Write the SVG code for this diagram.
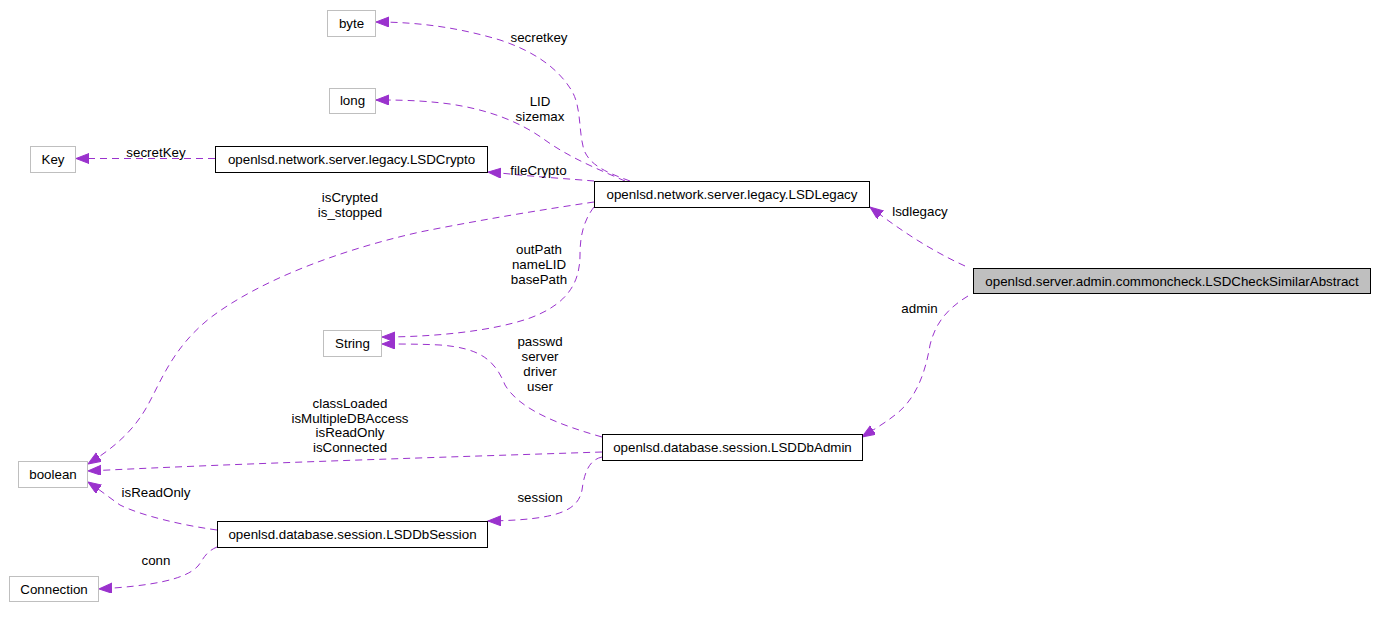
<svg xmlns="http://www.w3.org/2000/svg" width="1377" height="619" viewBox="0 0 1377 619">
<style>
  text { font-family: "Liberation Sans", Arial, Helvetica, sans-serif; font-size: 13.33px; fill: #000; text-anchor: middle; }
  .ext rect { fill: #fff; stroke: #bfbfbf; stroke-width: 1; }
  .cls rect { fill: #fff; stroke: #000; stroke-width: 1; }
  .main rect { fill: #bfbfbf; stroke: #000; stroke-width: 1; }
  .edge { fill: none; stroke: #9a32cd; stroke-width: 1; stroke-dasharray: 7,5; marker-end: url(#arrow); }
</style>
<defs>
  <marker id="arrow" markerUnits="userSpaceOnUse" markerWidth="15" markerHeight="12" refX="13" refY="5" orient="auto">
    <path d="M0,0 L13,5 L0,10 z" fill="#9a32cd" stroke="#9a32cd" stroke-width="1"/>
  </marker>
</defs>
<rect width="1377" height="619" fill="#fff"/>

<g id="connectors">
  <path class="edge" d="M 630,181 C 605,172 590,165 584,150 C 578,130 582,105 570,88 C 555,65 530,50 500,40 C 460,28 420,22 376,22"/>
  <path class="edge" d="M 625,181 C 600,170 570,158 545,140 C 520,122 490,110 450,104 C 420,100 395,100 376,100"/>
  <path class="edge" d="M 594,181 C 570,179 540,177 520,175 C 510,174 500,173 488,172"/>
  <path class="edge" d="M 215,158.5 L 76,158.5"/>
  <path class="edge" d="M 594,202 C 540,210 480,220 420,232 C 340,250 260,280 210,318 C 170,350 160,385 145,410 C 130,435 110,450 88,464"/>
  <path class="edge" d="M 594,207 C 584,220 580,235 580,255 C 580,285 565,305 530,318 C 490,332 430,337 382,337"/>
  <path class="edge" d="M 602,437 C 560,425 520,410 505,385 C 495,360 480,348 440,345 C 420,344 400,344 382,344"/>
  <path class="edge" d="M 602,452 C 450,457 250,463 88,471"/>
  <path class="edge" d="M 217,530 C 180,525 140,515 120,505 C 110,498 100,490 88,482"/>
  <path class="edge" d="M 217,547 C 205,552 203,560 198,566 C 185,580 150,586 99,589"/>
  <path class="edge" d="M 602,457 C 588,460 584,475 582,490 C 578,510 560,520 488,521"/>
  <path class="edge" d="M 965,266 C 930,250 900,230 870,207"/>
  <path class="edge" d="M 968,296 C 945,310 935,325 930,345 C 925,375 915,400 895,415 C 885,423 873,430 862,437"/>

  <text x="539" y="42">secretkey</text>
  <text x="540" y="106">LID</text>
  <text x="540" y="121">sizemax</text>
  <text x="538.5" y="175">fileCrypto</text>
  <text x="156" y="157">secretKey</text>
  <text x="350" y="202">isCrypted</text>
  <text x="350" y="217">is_stopped</text>
  <text x="539" y="254">outPath</text>
  <text x="539" y="269">nameLID</text>
  <text x="539" y="284">basePath</text>
  <text x="540" y="346">passwd</text>
  <text x="540" y="361">server</text>
  <text x="540" y="376">driver</text>
  <text x="540" y="391">user</text>
  <text x="350" y="408">classLoaded</text>
  <text x="350" y="423">isMultipleDBAccess</text>
  <text x="350" y="437">isReadOnly</text>
  <text x="350" y="452">isConnected</text>
  <text x="156" y="497">isReadOnly</text>
  <text x="156" y="565">conn</text>
  <text x="540" y="502">session</text>
  <text x="920" y="216">lsdlegacy</text>
  <text x="919.5" y="313">admin</text>
</g>

<g id="node-byte" class="ext"><rect x="327.5" y="10.5" width="48" height="26"/><text x="351.5" y="28">byte</text></g>
<g id="node-long" class="ext"><rect x="329.5" y="88.5" width="46" height="25"/><text x="352.5" y="105">long</text></g>
<g id="node-key" class="ext"><rect x="30.5" y="146.5" width="45" height="26"/><text x="53" y="164">Key</text></g>
<g id="node-lsdcrypto" class="cls"><rect x="215.5" y="146.5" width="272" height="26"/><text x="351.5" y="164">openlsd.network.server.legacy.LSDCrypto</text></g>
<g id="node-lsdlegacy" class="cls"><rect x="594.5" y="181.5" width="275" height="26"/><text x="732" y="199">openlsd.network.server.legacy.LSDLegacy</text></g>
<g id="node-main" class="main"><rect x="973.5" y="268.5" width="397" height="25"/><text x="1172" y="286">openlsd.server.admin.commoncheck.LSDCheckSimilarAbstract</text></g>
<g id="node-string" class="ext"><rect x="323.5" y="330.5" width="58" height="26"/><text x="352.5" y="348">String</text></g>
<g id="node-lsddbadmin" class="cls"><rect x="602.5" y="434.5" width="260" height="26"/><text x="732.5" y="452">openlsd.database.session.LSDDbAdmin</text></g>
<g id="node-boolean" class="ext"><rect x="18.5" y="461.5" width="69" height="26"/><text x="53" y="479">boolean</text></g>
<g id="node-lsddbsession" class="cls"><rect x="217.5" y="521.5" width="270" height="26"/><text x="352.5" y="539">openlsd.database.session.LSDDbSession</text></g>
<g id="node-connection" class="ext"><rect x="9.5" y="576.5" width="89" height="25"/><text x="54" y="594">Connection</text></g>
</svg>
